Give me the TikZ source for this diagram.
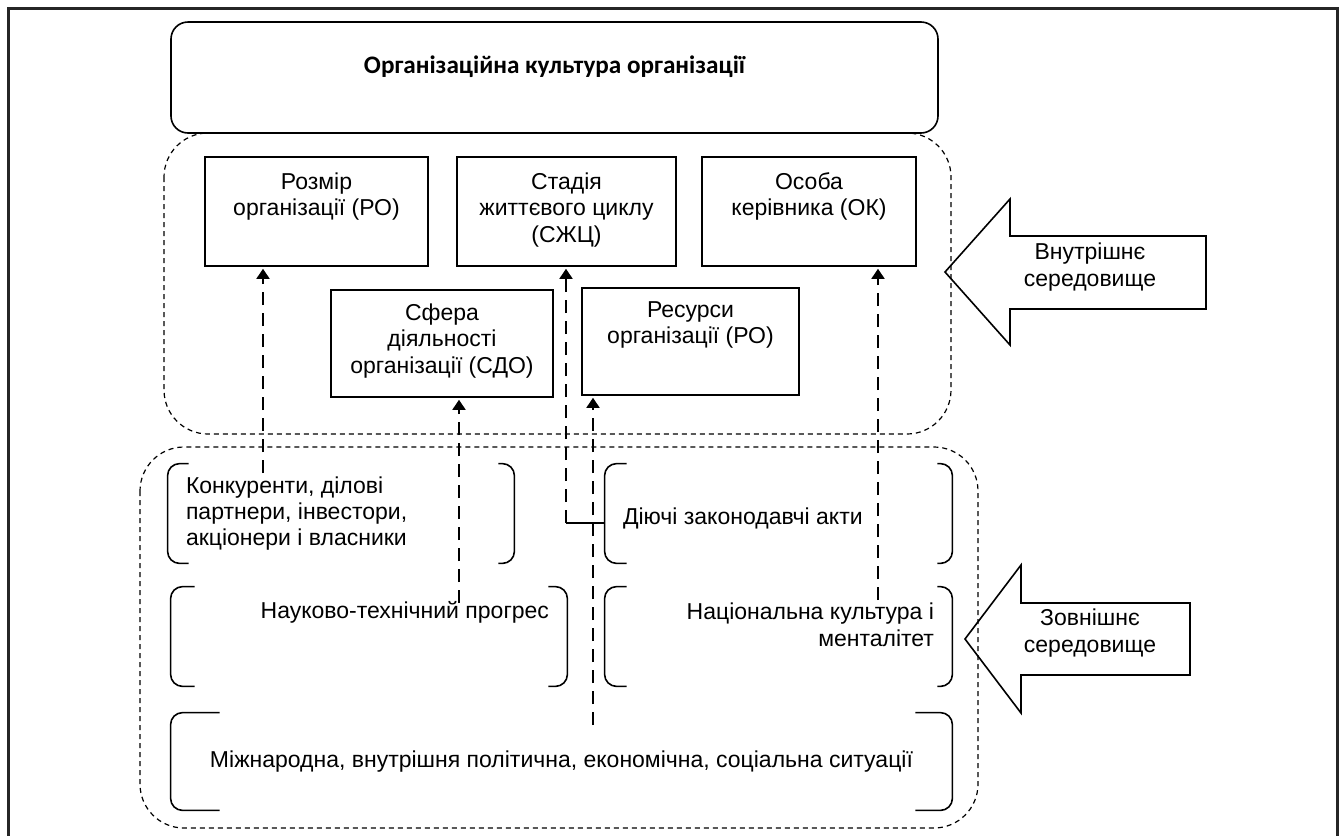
\documentclass[tikz,border=0pt]{standalone}
\usepackage{fontspec}
\setmainfont{Liberation Sans}
\newfontfamily\headfont{Carlito}
\usetikzlibrary{arrows.meta,positioning}
\begin{document}
\begin{tikzpicture}[x=0.5pt,y=-0.5pt]
  \tikzset{
    box/.style={draw,line width=0.8pt,inner sep=0pt},
    boxtext/.style={align=center,font=\fontsize{11.5}{13.2}\selectfont,inner sep=0pt},
    region/.style={dash pattern=on 2.5pt off 2pt,line width=0.6pt,rounded corners=22pt},
    dasharrow/.style={line width=0.9pt,dash pattern=on 6.5pt off 4pt,shorten >=1pt,-{Triangle[length=5pt,width=6.5pt]}},
    brack/.style={inner sep=0pt},
    bigarrow/.style={draw,line width=0.8pt,line join=miter},}
  \def\brak#1#2#3{%
    \draw[line width=0.8pt,rounded corners=6pt] ([xshift=#2]#1.north west) -- (#1.north west) -- (#1.south west) -- ([xshift=#2]#1.south west);
    \draw[line width=0.8pt,rounded corners=6pt] ([xshift=-#3]#1.north east) -- (#1.north east) -- (#1.south east) -- ([xshift=-#3]#1.south east);}
  \useasboundingbox (0,0) rectangle (1340,836);
  \draw[line width=1.5pt,black!85] (8,900) -- (8,8) -- (1337,8) -- (1337,900);
  % regions
  \draw[region] (164,133) rectangle (951,434);
  \draw[region] (140,447) rectangle (978,828);
  \node[box,rounded corners=8.5pt,minimum width=383.5pt,minimum height=55.5pt] (orgbox) at (554.5,77.5) {};
  \node[font=\headfont\bfseries\fontsize{12.6}{15}\selectfont] (orgT) at (554.5,67) {Організаційна культура організації};
  % inner factors
  \node[box,minimum width=111.5pt,minimum height=54.5pt] (rozmir) at (316.5,211.5) {};
  \node[boxtext,below=8pt of rozmir.north] (rozmirT) {Розмір\\організації (РО)};
  \node[box,minimum width=109.5pt,minimum height=54.5pt] (stadia) at (566.5,211.5) {};
  \node[boxtext,below=8pt of stadia.north] (stadiaT) {Стадія\\життєвого циклу\\(СЖЦ)};
  \node[box,minimum width=107pt,minimum height=54.5pt] (osoba) at (809,211.5) {};
  \node[boxtext,below=8pt of osoba.north] (osobaT) {Особа\\керівника (ОК)};
  \node[box,minimum width=111pt,minimum height=53.5pt] (sfera) at (442,343.5) {};
  \node[boxtext,below=7pt of sfera.north] (sferaT) {Сфера\\діяльності\\організації (СДО)};
  \node[box,minimum width=108.5pt,minimum height=53.5pt] (resursy) at (690.5,341.5) {};
  \node[boxtext,below=7pt of resursy.north] (resursyT) {Ресурси\\організації (РО)};
  % outer factors
  \node[brack,minimum width=173pt,minimum height=49.5pt] (konk) at (341,513.5) {};
  \brak{konk}{10.5pt}{8pt}
  \node[boxtext,align=left,anchor=west] (konkT) at ([xshift=9pt]konk.west) {Конкуренти, ділові\\партнери, інвестори,\\акціонери і власники};
  \node[brack,minimum width=173.5pt,minimum height=49.5pt] (diyuchi) at (778.5,513.5) {};
  \brak{diyuchi}{11pt}{7.5pt}
  \node[boxtext,anchor=west] (diyuchiT) at ([xshift=9pt,yshift=-2.25pt]diyuchi.west) {Діючі законодавчі акти};
  \node[brack,minimum width=198pt,minimum height=49.5pt] (nauk) at (369,636.5) {};
  \brak{nauk}{12pt}{9.5pt}
  \node[boxtext,anchor=north east] (naukT) at ([xshift=-9pt,yshift=-7pt]nauk.north east) {Науково-технічний прогрес};
  \node[brack,minimum width=173.5pt,minimum height=49.5pt] (nats) at (778.5,636.5) {};
  \brak{nats}{11pt}{7.5pt}
  \node[boxtext,align=right,anchor=north east] (natsT) at ([xshift=-9pt,yshift=-8pt]nats.north east) {Національна культура і\\менталітет};
  \node[brack,minimum width=390.5pt,minimum height=48.5pt] (mizhn) at (561.5,761.5) {};
  \brak{mizhn}{24.5pt}{18.5pt}
  \node[boxtext] (mizhnT) at (mizhn.center) {Міжнародна, внутрішня політична, економічна, соціальна ситуації};
  % influences
  \coordinate (a1) at (263,473);
  \coordinate (a2) at (459,603);
  \coordinate (a3) at (566,523);
  \coordinate (a4) at (593,725);
  \coordinate (a5) at (878,600);
  \draw[dasharrow] (a1) -- (a1 |- rozmir.south);
  \draw[dasharrow] (a2) -- (a2 |- sfera.south);
  \draw[line width=0.8pt] (diyuchi.west |- a3) -- (a3);
  \draw[dasharrow] (a3) -- (a3 |- stadia.south);
  \draw[dasharrow] (a4) -- (a4 |- resursy.south);
  \draw[dasharrow] (a5) -- (a5 |- osoba.south);
  % environments
  \draw[bigarrow] (945,272) -- (1010,199) -- (1010,236) -- (1206,236) -- (1206,309) -- (1010,309) -- (1010,345) -- cycle;
  \node[boxtext] (vnutrT) at (1090,267) {Внутрішнє\\середовище};
  \draw[bigarrow] (965,639) -- (1021,565) -- (1021,603) -- (1190,603) -- (1190,675) -- (1021,675) -- (1021,713) -- cycle;
  \node[boxtext] (zovnT) at (1090,633) {Зовнішнє\\середовище};
\end{tikzpicture}
\end{document}
